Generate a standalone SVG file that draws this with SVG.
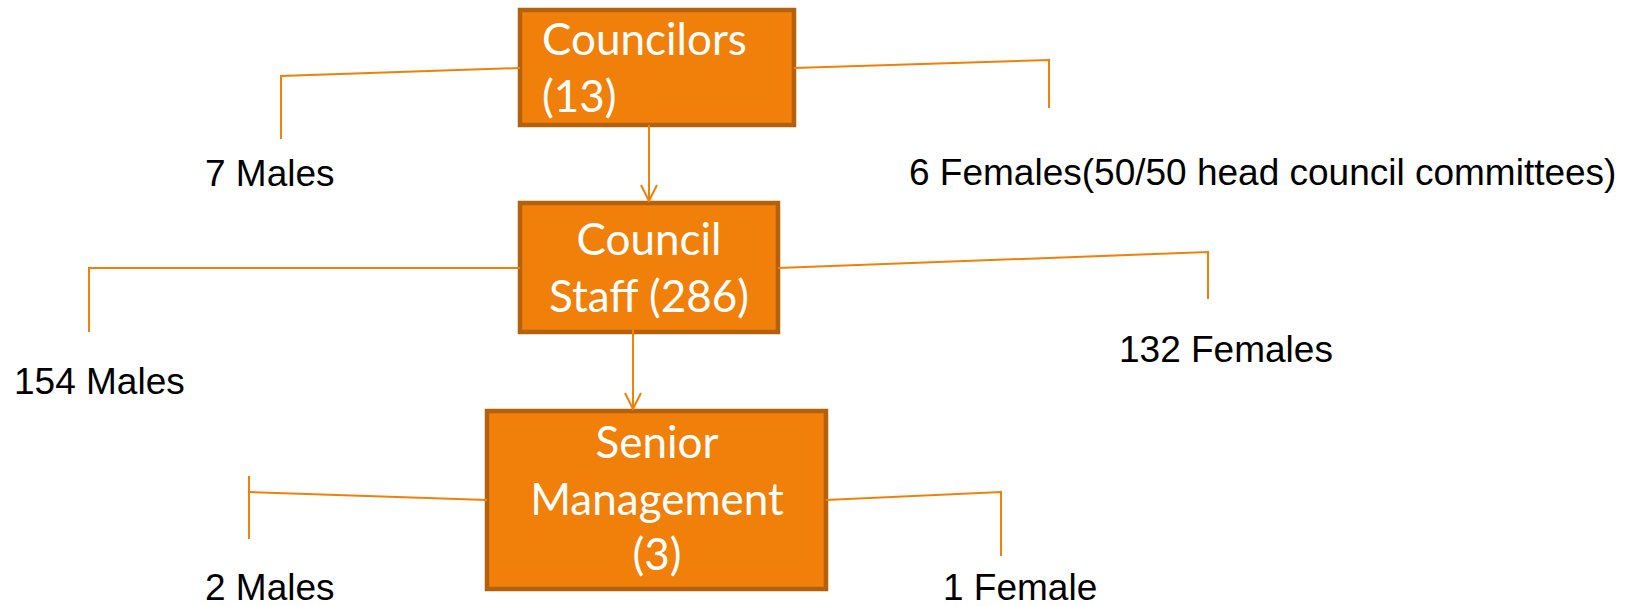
<svg xmlns="http://www.w3.org/2000/svg" width="1639" height="606" viewBox="0 0 1639 606">
<defs>
<style>
.box{fill:#F0800A;stroke:#B5610B;stroke-width:4.5}
.bt{font-family:Lato,"Open Sans",sans-serif;font-size:44px;fill:#FFFFFF}
.lbl{font-family:"Liberation Sans",Arial,sans-serif;font-size:37px;fill:#000000}
.con{fill:none;stroke:#F0800A;stroke-width:2}
</style>
<marker id="arr" viewBox="0 0 20 20" refX="18" refY="10" markerWidth="20" markerHeight="20" markerUnits="userSpaceOnUse" orient="auto">
<path d="M2,2 L18,10 L2,18" fill="none" stroke="#F0800A" stroke-width="2"/>
</marker>
</defs>
<rect width="1639" height="606" fill="#FFFFFF"/>
<g id="node-councilors">
<rect class="box" x="520" y="10" width="274" height="115"/>
<text class="bt" x="542" y="55">Councilors</text>
<text class="bt" x="542" y="112">(13)</text>
</g>
<g id="node-staff">
<rect class="box" x="520" y="203" width="258" height="129"/>
<text class="bt" x="649" y="255" text-anchor="middle">Council</text>
<text class="bt" x="649" y="312" text-anchor="middle">Staff (286)</text>
</g>
<g id="node-senior">
<rect class="box" x="487" y="411" width="339" height="178"/>
<text class="bt" x="657" y="458" text-anchor="middle">Senior</text>
<text class="bt" x="657" y="515" text-anchor="middle">Management</text>
<text class="bt" x="657" y="570" text-anchor="middle">(3)</text>
</g>
<g id="connectors">
<polyline class="con" points="520,68 281,76 281,139"/>
<polyline class="con" points="794,68 1049,60 1049,108"/>
<polyline class="con" points="520,268 89,268 89,332"/>
<polyline class="con" points="778,268 1208,252 1208,299"/>
<polyline class="con" points="487,500 249,492"/>
<line class="con" x1="249" y1="476" x2="249" y2="539"/>
<polyline class="con" points="826,500 1001,492 1001,556"/>
<line class="con" x1="649" y1="125" x2="649" y2="201" marker-end="url(#arr)"/>
<line class="con" x1="633" y1="315" x2="633" y2="409" marker-end="url(#arr)"/>
</g>
<g id="labels">
<text class="lbl" x="205" y="186">7 Males</text>
<text class="lbl" x="909" y="185">6 Females(50/50 head council committees)</text>
<text class="lbl" x="14" y="394">154 Males</text>
<text class="lbl" x="1119" y="362">132 Females</text>
<text class="lbl" x="205" y="600">2 Males</text>
<text class="lbl" x="943" y="600">1 Female</text>
</g>
</svg>
